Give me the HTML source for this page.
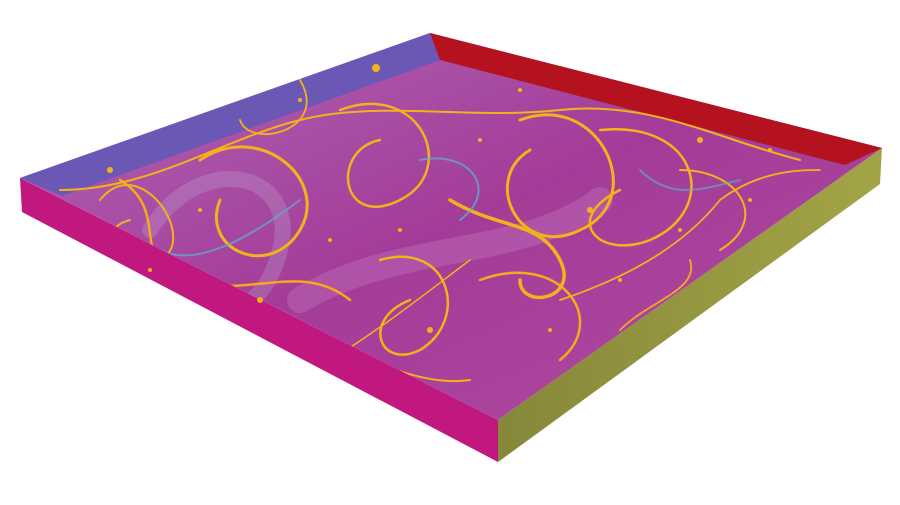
<!DOCTYPE html>
<html><head><meta charset="utf-8"><style>
html,body{margin:0;padding:0;background:#fff;width:900px;height:505px;overflow:hidden}
</style></head><body>
<svg width="900" height="505" viewBox="0 0 900 505" xmlns="http://www.w3.org/2000/svg">
<defs>
<linearGradient id="fl" x1="0" y1="0" x2="1" y2="1">
<stop offset="0" stop-color="#b068b8"/><stop offset="0.5" stop-color="#a33c98"/><stop offset="1" stop-color="#b04aa0"/>
</linearGradient>
<linearGradient id="ol" x1="0" y1="0" x2="1" y2="0">
<stop offset="0" stop-color="#86883a"/><stop offset="1" stop-color="#a3a446"/>
</linearGradient>
<clipPath id="fc"><polygon points="20,178 430,33 882,148 498,420"/></clipPath>
</defs>
<polygon points="20,178 498,420 498,462 22,212" fill="#c0187f"/>
<polygon points="498,420 882,148 880,184 498,462" fill="url(#ol)"/>
<polygon points="20,178 430,33 882,148 498,420" fill="url(#fl)"/>
<polygon points="20,178 430,33 440,60 62,196" fill="#6a58b4"/>
<polygon points="430,33 882,148 845,165 440,60" fill="#b4121e"/>
<g fill="none" stroke-linecap="round" clip-path="url(#fc)">
<path d="M150,230 C200,150 300,170 280,250 S200,300 240,340" stroke="#c7d6e8" stroke-width="16" opacity="0.2"/>
<path d="M300,300 C400,240 520,260 600,200" stroke="#e0b0e0" stroke-width="26" opacity="0.2"/>
<path d="M200,160 C260,120 330,180 300,230 C270,280 200,250 220,200" stroke="#f3b21a" stroke-width="3"/>
<path d="M520,120 C600,90 650,200 580,230 C520,260 480,180 530,150" stroke="#f3b21a" stroke-width="3"/>
<path d="M120,180 C170,210 130,260 180,280 C250,300 300,260 350,300" stroke="#f6a91a" stroke-width="2.5"/>
<path d="M340,110 C420,80 460,170 400,200 C340,230 330,150 380,140" stroke="#f3b21a" stroke-width="2.5"/>
<path d="M600,130 C700,120 720,210 650,240 C600,260 560,220 620,190" stroke="#f3b21a" stroke-width="2.5"/>
<path d="M380,260 C450,240 470,320 420,350 C380,370 360,320 410,300" stroke="#f3b21a" stroke-width="2.5"/>
<path d="M480,280 C560,250 610,320 560,360" stroke="#f6a91a" stroke-width="2.5"/>
<path d="M60,190 C150,190 220,140 300,120 C380,100 470,120 560,110 C650,100 720,140 800,160" stroke="#f3b21a" stroke-width="2"/>
<path d="M250,320 C330,330 400,390 470,380" stroke="#f3b21a" stroke-width="2"/>
<path d="M450,200 C500,230 540,220 560,260 C580,300 520,310 520,280" stroke="#f3b21a" stroke-width="3.5"/>
<path d="M680,170 C740,170 770,220 720,250" stroke="#f3b21a" stroke-width="2"/>
<path d="M100,200 C140,150 200,240 160,260 C120,280 90,230 130,220" stroke="#f3b21a" stroke-width="2"/>
<path d="M560,300 C620,280 680,250 720,200 C760,170 800,170 820,170" stroke="#f3b21a" stroke-width="1.8"/>
<path d="M300,80 C330,130 250,150 240,120" stroke="#f3b21a" stroke-width="1.8"/>
<path d="M620,330 C650,300 700,290 690,260" stroke="#f6a91a" stroke-width="1.8"/>
<path d="M330,360 C380,330 430,290 470,260" stroke="#f3b21a" stroke-width="1.5"/>
<path d="M160,250 C200,270 260,230 300,200" stroke="#5ab4d0" stroke-width="2" opacity="0.7"/>
<path d="M420,160 C470,150 500,190 460,220" stroke="#5ab4d0" stroke-width="2" opacity="0.7"/>
<path d="M640,170 C670,200 700,190 740,180" stroke="#5ab4d0" stroke-width="2" opacity="0.6"/>
</g>
<g fill="#f3b21a">
<circle cx="376" cy="68" r="4"/><circle cx="110" cy="170" r="3"/><circle cx="260" cy="300" r="3"/>
<circle cx="590" cy="210" r="3"/><circle cx="700" cy="140" r="3"/><circle cx="430" cy="330" r="3"/>
<circle cx="520" cy="90" r="2"/><circle cx="330" cy="240" r="2"/><circle cx="620" cy="280" r="2"/>
<circle cx="480" cy="140" r="2"/><circle cx="200" cy="210" r="2"/><circle cx="770" cy="150" r="2"/>
<circle cx="300" cy="100" r="2"/><circle cx="550" cy="330" r="2"/><circle cx="680" cy="230" r="2"/>
<circle cx="400" cy="230" r="2"/><circle cx="150" cy="270" r="2"/><circle cx="750" cy="200" r="2"/>
</g>
</svg>
</body></html>
